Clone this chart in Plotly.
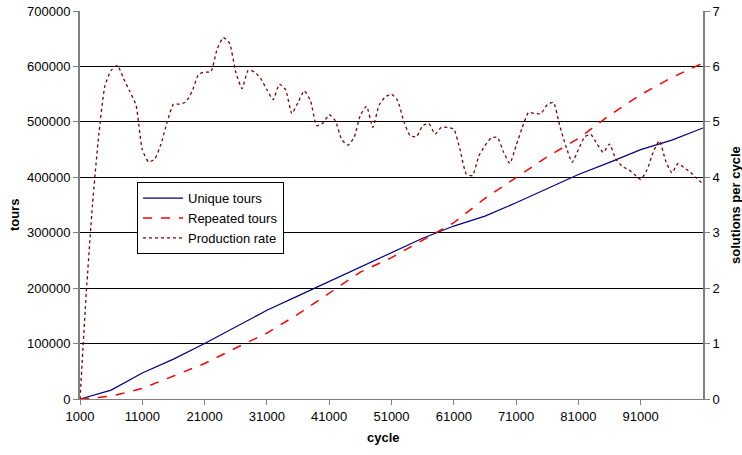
import plotly.graph_objects as go

# Production rate sampled every 1000 cycles
rate_cycles = list(range(1000, 101001, 1000))
production_rate = [0, 1.9, 3.5, 4.75, 5.65, 5.93, 6.02, 5.78, 5.55, 5.3,
                   4.5, 4.28, 4.33, 4.6, 5.0, 5.32, 5.32, 5.36, 5.55, 5.85,
                   5.9, 5.9, 6.31, 6.52, 6.42, 5.9, 5.6, 5.93, 5.9, 5.78,
                   5.58, 5.40, 5.68, 5.58, 5.15, 5.35, 5.56, 5.38, 4.93, 4.98,
                   5.13, 5.02, 4.68, 4.58, 4.72, 5.12, 5.28, 4.9, 5.3, 5.45,
                   5.5, 5.38, 5.0, 4.75, 4.73, 4.93, 4.97, 4.78, 4.9, 4.9,
                   4.87, 4.5, 4.06, 4.03, 4.38, 4.57, 4.71, 4.72, 4.45, 4.25,
                   4.57, 4.9, 5.17, 5.15, 5.15, 5.31, 5.35, 4.93, 4.56, 4.27,
                   4.5, 4.73, 4.77, 4.6, 4.45, 4.6, 4.33, 4.2, 4.14, 4.05,
                   3.96, 4.13, 4.45, 4.66, 4.3, 4.08, 4.25, 4.17, 4.09, 3.98, 3.88]

# Tours sampled every 5000 cycles
tour_cycles = list(range(1000, 101001, 5000))
unique_tours = [0, 16000, 47000, 72000, 100000, 130000, 160000, 186000, 212000, 237000,
                264000, 290000, 312000, 330000, 354000, 380000, 405000, 427000, 450000,
                467000, 489000]
repeated_tours = [0, 5000, 19000, 42000, 64000, 92000, 119000, 153000, 191000, 229000,
                  255000, 287000, 318000, 362000, 400000, 437000, 470000, 512000, 549000,
                  580000, 606000]

x_ticks = [1000, 11000, 21000, 31000, 41000, 51000, 61000, 71000, 81000, 91000]
y_ticks = [0, 100000, 200000, 300000, 400000, 500000, 600000, 700000]
y2_ticks = [0, 1, 2, 3, 4, 5, 6, 7]

FONT = "Liberation Sans, Arial, sans-serif"

fig = go.Figure()
fig.add_trace(go.Scatter(x=tour_cycles, y=unique_tours, name="Unique tours",
                         mode="lines", line=dict(color="#000080", width=1.2),
                         legendgroup="a"))
fig.add_trace(go.Scatter(x=tour_cycles, y=repeated_tours, name="Repeated tours",
                         mode="lines", line=dict(color="#FF0000", width=1.5, dash="dash"),
                         legendgroup="b"))
fig.add_trace(go.Scatter(x=rate_cycles, y=production_rate, name="Production rate",
                         mode="lines", yaxis="y2",
                         line=dict(color="#800000", width=1.3, dash="dot", shape="spline", smoothing=0.5),
                         legendgroup="c"))

fig.update_layout(
    width=742, height=455,
    margin=dict(l=80, r=39, t=11, b=56, autoexpand=False),
    paper_bgcolor="white", plot_bgcolor="white",
    font=dict(family=FONT, size=13, color="black"),
    showlegend=True,
    legend=dict(x=0.0915, y=0.559, xanchor="left", yanchor="top",
                bordercolor="black", borderwidth=1, bgcolor="white",
                font=dict(family=FONT, size=13), itemwidth=40,
                traceorder="grouped", tracegroupgap=0),
    xaxis=dict(range=[1000, 101000], tickvals=x_ticks, ticktext=[str(v) for v in x_ticks],
               ticks="outside", ticklen=5,
               tickcolor="#808080", showline=True, linecolor="#808080", linewidth=1,
               showgrid=False, zeroline=False, automargin=False,
               tickfont=dict(size=13)),
    yaxis=dict(range=[0, 700000], tickvals=y_ticks, ticktext=[str(v) for v in y_ticks],
               ticks="outside", ticklen=5,
               tickcolor="#808080", showline=True, linecolor="#808080", linewidth=2,
               showgrid=True, gridcolor="black", gridwidth=1, zeroline=False,
               automargin=False, tickfont=dict(size=13)),
    yaxis2=dict(range=[0, 7], tickvals=y2_ticks, ticktext=[str(v) for v in y2_ticks],
                overlaying="y", side="right",
                ticks="outside", ticklen=5, tickcolor="#808080",
                showline=True, linecolor="#808080", linewidth=2,
                showgrid=False, zeroline=False, automargin=False,
                tickfont=dict(size=13)),
    annotations=[
        dict(text="<b>cycle</b>", xref="paper", yref="paper", x=0.4875, y=-0.100,
             xanchor="center", yanchor="middle", showarrow=False, font=dict(size=13)),
        dict(text="<b>tours</b>", xref="paper", yref="paper", x=-0.1059, y=0.474,
             xanchor="center", yanchor="middle", textangle=-90, showarrow=False,
             font=dict(size=13)),
        dict(text="<b>solutions per cycle</b>", xref="paper", yref="paper", x=1.0514, y=0.5,
             xanchor="center", yanchor="middle", textangle=-90, showarrow=False,
             font=dict(size=13)),
    ],
)

fig.write_html("out.html", config={"displayModeBar": False},
               post_script="document.body.style.margin='0';document.body.style.overflow='hidden';")
